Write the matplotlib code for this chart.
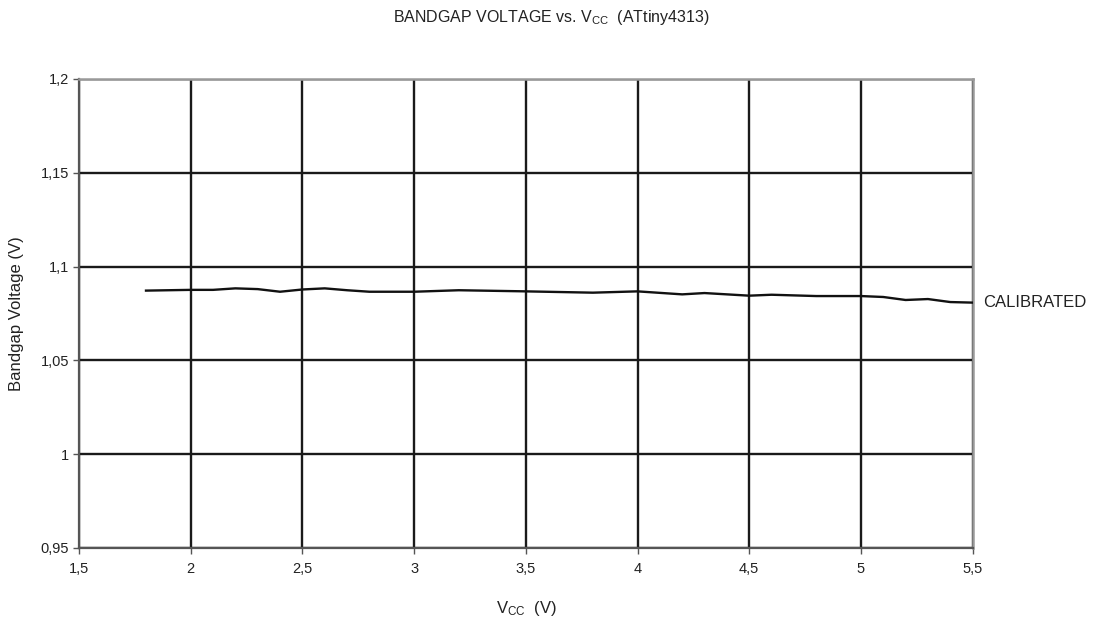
import matplotlib
matplotlib.use("Agg")
import matplotlib.pyplot as plt

plt.rcParams['font.family'] = ['Liberation Sans', 'DejaVu Sans']
plt.rcParams['mathtext.default'] = 'regular'

vcc = [1.8, 2.0, 2.1, 2.2, 2.3, 2.4, 2.5, 2.6, 2.7, 2.8, 3.0, 3.2, 3.5, 3.8, 4.0, 4.2, 4.3, 4.5, 4.6, 4.8, 5.0, 5.1, 5.2, 5.3, 5.4, 5.5]
bandgap = [1.0872, 1.0876, 1.0876, 1.0884, 1.0880, 1.0866, 1.0878, 1.0884, 1.0874, 1.0866, 1.0866, 1.0874, 1.0868, 1.0861, 1.0868, 1.0852, 1.0859, 1.0845, 1.0850, 1.0843, 1.0843, 1.0838, 1.0822, 1.0827, 1.0811, 1.0808]

xticks = [1.5, 2, 2.5, 3, 3.5, 4, 4.5, 5, 5.5]
xticklabels = ['1,5', '2', '2,5', '3', '3,5', '4', '4,5', '5', '5,5']
yticks = [0.95, 1.0, 1.05, 1.1, 1.15, 1.2]
yticklabels = ['0,95', '1', '1,05', '1,1', '1,15', '1,2']

fig = plt.figure(figsize=(11.03, 6.24), dpi=100)
ax = fig.add_axes([0.0716, 0.1218, 0.8102, 0.7516])

ax.set_xlim(1.5, 5.5)
ax.set_ylim(0.95, 1.2)
ax.set_xticks(xticks)
ax.set_xticklabels(xticklabels)
ax.set_yticks(yticks)
ax.set_yticklabels(yticklabels)

ax.grid(True, color='#1a1a1a', linewidth=1.7)
ax.set_axisbelow(True)

ax.plot(vcc, bandgap, color='#111111', linewidth=1.7, zorder=3)

for side in ['top', 'right']:
    ax.spines[side].set_color('#999999')
    ax.spines[side].set_linewidth(1.8)
for side in ['left', 'bottom']:
    ax.spines[side].set_color('#555555')
    ax.spines[side].set_linewidth(1.6)

ax.tick_params(axis='both', direction='out', length=4, width=1, color='#555555',
               labelsize=10.5, labelcolor='#222222', pad=3)
ax.tick_params(axis='x', pad=6)

ax.text(5.545, bandgap[-1], 'CALIBRATED', fontsize=12, va='center', ha='left', color='#222222')

fig.text(0.5, 0.972, 'BANDGAP VOLTAGE vs. V$_{CC}$  (ATtiny4313)', ha='center', va='center',
         fontsize=11.5, color='#222222')
fig.text(526 / 1103, 1 - 609 / 624, 'V$_{CC}$  (V)', ha='center', va='center', fontsize=12, color='#222222')
fig.text(17 / 1103, 0.5 * (1 - 79 / 624) + 0.5 * (1 - 548 / 624), 'Bandgap Voltage (V)',
         rotation=90, ha='center', va='center', fontsize=12, color='#222222')

fig.savefig('out.png', dpi=100)
